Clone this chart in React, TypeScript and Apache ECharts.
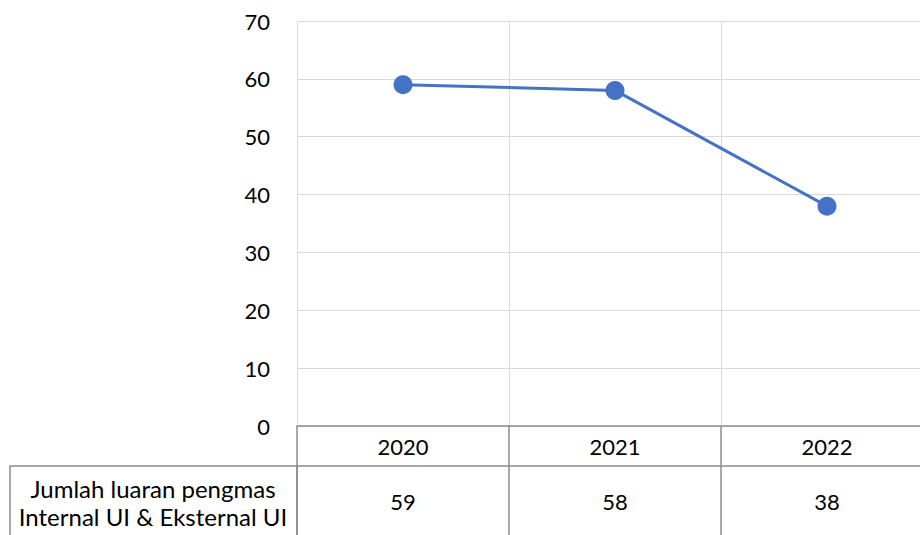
import React, { useEffect, useRef } from "react";
import * as echarts from "echarts";

const categories = ["2020", "2021", "2022"];
const values = [59, 58, 38];
const seriesLabel = ["Jumlah luaran pengmas", "Internal UI & Eksternal UI"];
const yTicks = { min: 0, max: 70, interval: 10 };

const FONT = "Lato, 'Noto Sans', sans-serif";
const DARK = "#8c8c8c";
const LIGHT = "#d9d9d9";
const NUM_SIZE = 22;

export default function App() {
  const ref = useRef<HTMLDivElement>(null);
  useEffect(() => {
    document.body.style.margin = "0";
    const chart = echarts.init(ref.current!, undefined, { renderer: "svg" });
    chart.setOption({
      animation: false,
      textStyle: { fontFamily: FONT },
      grid: { left: 297, top: 21, width: 636, height: 405, containLabel: false },
      xAxis: [
        {
          type: "category",
          data: categories,
          position: "bottom",
          boundaryGap: true,
          axisLine: { show: true, lineStyle: { color: DARK, width: 1.5 } },
          axisTick: { show: true, length: 112, interval: 0, lineStyle: { color: DARK, width: 1.5 } },
          axisLabel: { margin: 9, fontSize: NUM_SIZE, color: "#000", fontFamily: FONT },
          splitLine: { show: true, interval: 0, lineStyle: { color: LIGHT, width: 1 } },
        },
        {
          type: "category",
          data: categories,
          position: "bottom",
          offset: 40,
          boundaryGap: true,
          axisLine: { show: true, lineStyle: { color: DARK, width: 1.5 } },
          axisTick: { show: false },
          axisLabel: {
            margin: 24,
            fontSize: NUM_SIZE,
            color: "#000",
            fontFamily: FONT,
            formatter: (_v: string, i: number) => String(values[i]),
          },
          splitLine: { show: false },
        },
      ],
      yAxis: {
        type: "value",
        min: yTicks.min,
        max: yTicks.max,
        interval: yTicks.interval,
        axisLine: { show: true, lineStyle: { color: LIGHT } },
        axisTick: { show: false },
        axisLabel: { margin: 27, fontSize: NUM_SIZE, color: "#000", fontFamily: FONT },
        splitLine: { show: true, lineStyle: { color: LIGHT, width: 1 } },
      },
      graphic: [
        {
          type: "rect",
          shape: { x: 10, y: 466, width: 287, height: 90 },
          style: { fill: "none", stroke: DARK, lineWidth: 1.5 },
          silent: true,
        },
        {
          type: "text",
          x: 153,
          y: 502,
          style: {
            text: seriesLabel.join("\n"),
            fontSize: 24,
            lineHeight: 28,
            fontFamily: FONT,
            fill: "#000",
            align: "center",
            verticalAlign: "middle",
          },
          silent: true,
        },
      ],
      series: [
        {
          type: "line",
          xAxisIndex: 0,
          data: values,
          symbol: "circle",
          symbolSize: 19,
          lineStyle: { color: "#4472C4", width: 3 },
          itemStyle: { color: "#4472C4" },
        },
      ],
    });
    return () => chart.dispose();
  }, []);
  return (
    <div style={{ width: 920, height: 535, overflow: "hidden", position: "relative" }}>
      <div ref={ref} style={{ width: 950, height: 535 }} />
    </div>
  );
}
